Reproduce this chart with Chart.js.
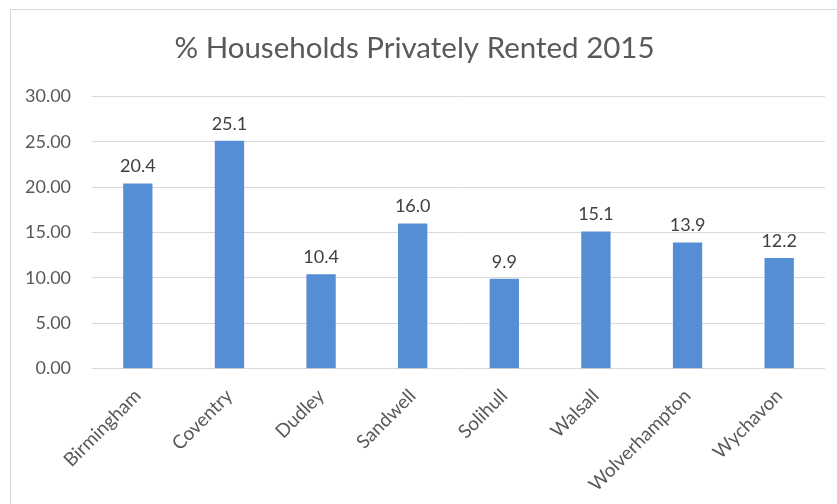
<!DOCTYPE html>
<html>
<head>
<meta charset="utf-8">
<script src="https://cdn.jsdelivr.net/npm/chart.js@4.4.1/dist/chart.umd.min.js"></script>
<style>
  html, body { margin: 0; padding: 0; background: #fff; }
  #frame { position: absolute; left: 10px; top: 9px; width: 840px; height: 510px; border: 1px solid #d9d9d9; }
  #wrap { position: absolute; left: 0; top: 0; width: 837px; height: 504px; }
</style>
</head>
<body>
<div id="frame"></div>
<div id="wrap"><canvas id="my-chart"></canvas></div>
<script>
const areas = ['Birmingham', 'Coventry', 'Dudley', 'Sandwell', 'Solihull', 'Walsall', 'Wolverhampton', 'Wychavon'];
const rented = [20.4, 25.1, 10.4, 16.0, 9.9, 15.1, 13.9, 12.2];
const yTicks = [0, 5, 10, 15, 20, 25, 30];

const textGrey = '#595959';
const fontName = 'Lato';

// draws the value above each bar, like Excel's data labels
const valueLabels = {
  id: 'valueLabels',
  afterDatasetsDraw(chart) {
    const ctx = chart.ctx;
    const meta = chart.getDatasetMeta(0);
    ctx.save();
    ctx.font = '18px ' + fontName;
    ctx.fillStyle = '#404040';
    ctx.textAlign = 'center';
    ctx.textBaseline = 'bottom';
    meta.data.forEach((bar, i) => {
      ctx.fillText(rented[i].toFixed(1), bar.x, bar.y - 8);
    });
    ctx.restore();
  }
};

const ctx = document.getElementById('my-chart').getContext('2d');
const chart = new Chart(ctx, {
  type: 'bar',
  data: {
    labels: areas,
    datasets: [{
      label: '% Households Privately Rented 2015',
      data: rented,
      backgroundColor: '#558ed5',
      barPercentage: 0.32,
      categoryPercentage: 1
    }]
  },
  options: {
    responsive: true,
    maintainAspectRatio: false,
    animation: false,
    layout: { padding: { left: 4, right: 12, top: 31, bottom: 0 } },
    plugins: {
      legend: { display: false },
      tooltip: { enabled: false },
      title: {
        display: true,
        text: '% Households Privately Rented 2015',
        color: textGrey,
        font: { family: fontName, size: 29.5, weight: 'normal' },
        padding: { top: 0, bottom: 30 }
      }
    },
    scales: {
      x: {
        grid: { display: false },
        border: { display: false },
        ticks: {
          color: textGrey,
          font: { family: fontName, size: 19 },
          minRotation: 45,
          maxRotation: 45,
          padding: 8
        }
      },
      y: {
        min: 0,
        max: 30,
        afterBuildTicks: axis => { axis.ticks = yTicks.map(v => ({ value: v })); },
        grid: { color: '#d9d9d9', drawTicks: false },
        border: { display: false },
        ticks: {
          color: textGrey,
          font: { family: fontName, size: 18 },
          padding: 21,
          callback: v => v.toFixed(2)
        }
      }
    }
  },
  plugins: [valueLabels]
});
</script>
</body>
</html>
